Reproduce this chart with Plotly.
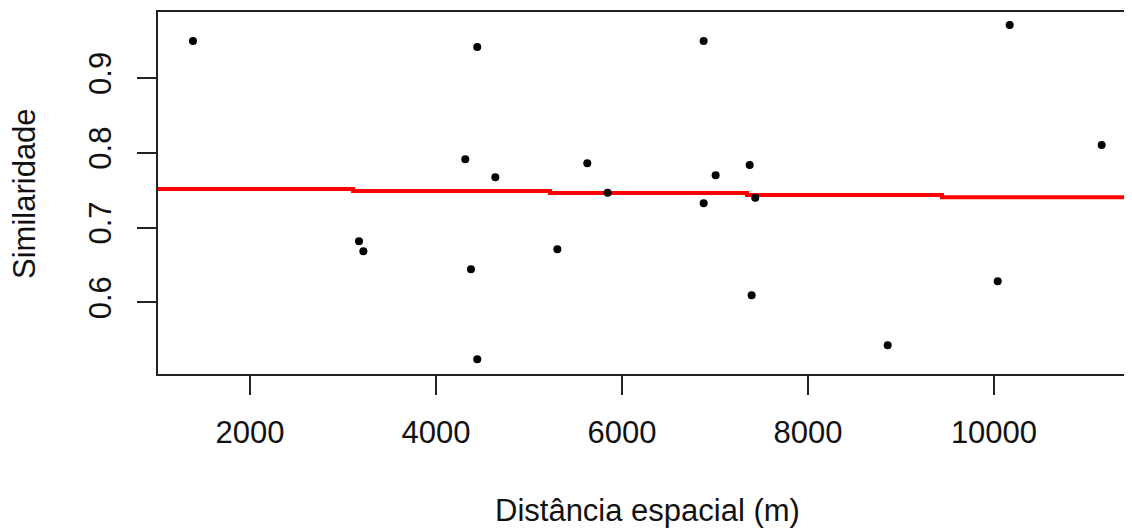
import plotly.graph_objects as go

# Spatial distance (m) and similarity values
distancia = [1387, 4444, 4315, 4638, 5627, 5846, 3172, 3219, 4376, 5305, 4444,
             6878, 7007, 7373, 6878, 7433, 7394, 8857, 10169, 11158, 10040]
similaridade = [0.9495, 0.9414, 0.7913, 0.7672, 0.786, 0.7467, 0.6817, 0.6683,
                0.6442, 0.671, 0.5239, 0.9495, 0.770, 0.7837, 0.7325, 0.740,
                0.6095, 0.5427, 0.9709, 0.8104, 0.6282]

# Fitted (stepped) trend line
ajuste_x = [1011, 3108, 5226, 7344, 9441, 11484]
ajuste_y = [0.7516, 0.7488, 0.7463, 0.7436, 0.7406, 0.7406]

x_ticks = [2000, 4000, 6000, 8000, 10000]
y_ticks = [0.6, 0.7, 0.8, 0.9]

FONT = "Liberation Sans, Arial, sans-serif"

fig = go.Figure()
fig.add_trace(go.Scatter(
    x=ajuste_x, y=ajuste_y, mode="lines", line_shape="hv",
    line=dict(color="#ff0000", width=4), hoverinfo="skip", showlegend=False))
fig.add_trace(go.Scatter(
    x=distancia, y=similaridade, mode="markers",
    marker=dict(color="black", size=8), showlegend=False))

fig.update_layout(
    width=1124, height=520,
    margin=dict(l=150, r=0, t=4, b=154),
    plot_bgcolor="white", paper_bgcolor="white",
    font=dict(family=FONT, size=31, color="black"),
    xaxis=dict(range=[1011, 11484], tickvals=x_ticks,
               ticktext=[str(v) for v in x_ticks],
               showgrid=False, zeroline=False, showline=True, mirror=True,
               linecolor="#222", linewidth=1.6, ticks="outside", ticklen=19,
               tickwidth=1.6, tickcolor="#222", ticklabelstandoff=11,
               tickfont=dict(family=FONT, size=31, color="#111")),
    yaxis=dict(range=[0.5043, 0.9882], tickvals=y_ticks,
               ticktext=[f"{v:.1f}" for v in y_ticks],
               showgrid=False, zeroline=False, showline=True, mirror=False,
               linecolor="#222", linewidth=1.6, ticks="outside", ticklen=19,
               tickwidth=1.6, tickcolor="#222", tickangle=-90,
               ticklabelstandoff=14,
               tickfont=dict(family=FONT, size=31, color="#111")),
    annotations=[
        dict(text="Distância espacial (m)", xref="paper", yref="paper",
             x=0.503, y=-0.3757, xanchor="center", yanchor="middle",
             showarrow=False, font=dict(family=FONT, size=31, color="#111")),
        dict(text="Similaridade", xref="paper", yref="paper",
             x=-0.1376, y=0.5, xanchor="center", yanchor="middle",
             textangle=-90, showarrow=False,
             font=dict(family=FONT, size=31, color="#111")),
    ],
)

fig.write_html("out.html")
